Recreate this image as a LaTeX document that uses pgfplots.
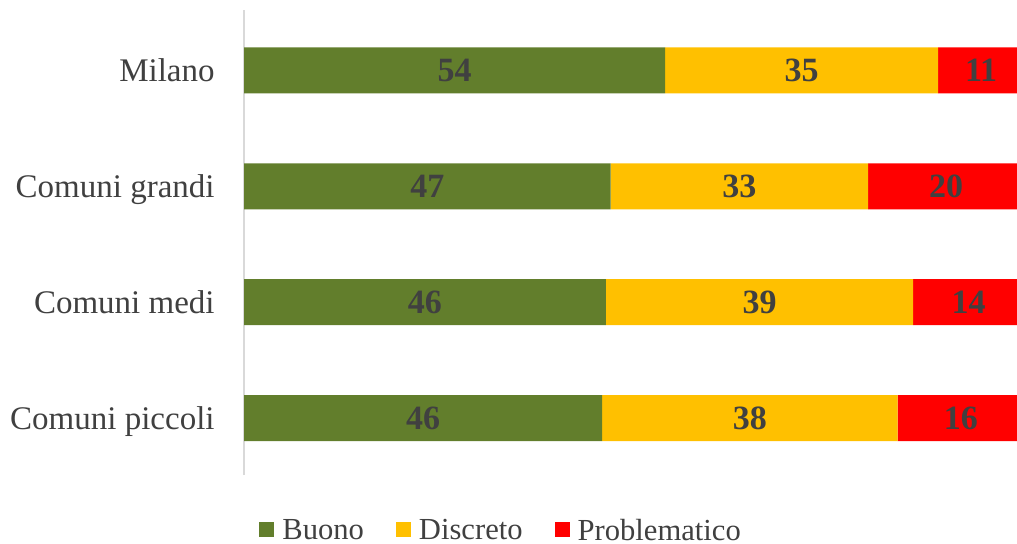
\documentclass[border=0pt]{standalone}
\usepackage{fontspec}
\setmainfont{Liberation Serif}
\usepackage{pgfplots}
\usepackage{pgfplotstable}
\pgfplotsset{compat=1.18}

\definecolor{buono}{RGB}{98,126,44}
\definecolor{discreto}{RGB}{255,192,0}
\definecolor{problem}{RGB}{255,0,0}
\definecolor{testo}{RGB}{64,64,64}
\definecolor{asse}{RGB}{217,217,217}

% y: 3 = Milano (in alto) ... 0 = Comuni piccoli
\pgfplotstableread{
y  b    d    p
3  54   35   11
2  47   33   20
1  46.4 39.4 14.2
0  45.9 37.9 16.2
}\giudizi

% stacked bars: the label already sits in the middle of its segment
\pgfplotsset{
  segmento/.style={
    point meta=explicit,
    nodes near coords={\pgfmathprintnumber[fixed,precision=0,assume math mode=true]{\pgfplotspointmeta}},
    nodes near coords align=center,
    every node near coord/.append style={
      font=\fontsize{17}{20}\selectfont\bfseries, text=testo,
      text height=11.5pt, text depth=0pt, inner sep=0pt},
  },
}

\begin{document}
\begin{tikzpicture}
\useasboundingbox (0,0) rectangle (508.5pt,271.5pt);
\begin{axis}[
    at={(122pt,34pt)}, anchor=south west,
    scale only axis,
    width=393.9pt, height=232.5pt,
    xbar stacked,
    bar width=23pt,
    xmin=0, xmax=101,
    ymin=-0.49, ymax=3.52,
    axis x line=none,
    axis y line*=left,
    y axis line style={draw=asse, line width=1pt},
    xtick=\empty,
    ytick={0,1,2,3},
    yticklabels={Comuni piccoli, Comuni medi, Comuni grandi, Milano},
    major tick length=0pt,
    yticklabel style={font=\fontsize{16.5}{20}\selectfont, text=testo,
      inner sep=0pt, xshift=-14.5pt, text height=10.9pt, text depth=0pt, anchor=east},
    legend style={at={(0.3276,-0.117)}, anchor=center, draw=none, fill=none,
      font=\fontsize{15.3}{18}\selectfont, text=testo, legend columns=3,
      inner sep=0pt, nodes={text depth=0pt, inner ysep=0pt},
      /tikz/every odd column/.append style={column sep=2pt},
      /tikz/every even column/.append style={column sep=14pt}},
    legend image code/.code={\path[#1, draw=none] (0pt,-3.75pt) rectangle (7.5pt,3.75pt);},
]
\addplot[fill=buono, draw=none, segmento=b] table[x=b, y=y, meta=b]{\giudizi};
\addplot[fill=discreto, draw=none, segmento=d] table[x=d, y=y, meta=d]{\giudizi};
\addplot[fill=problem, draw=none, segmento=p] table[x=p, y=y, meta=p]{\giudizi};
\legend{Buono, Discreto, Problematico}
\end{axis}
\end{tikzpicture}
\end{document}
